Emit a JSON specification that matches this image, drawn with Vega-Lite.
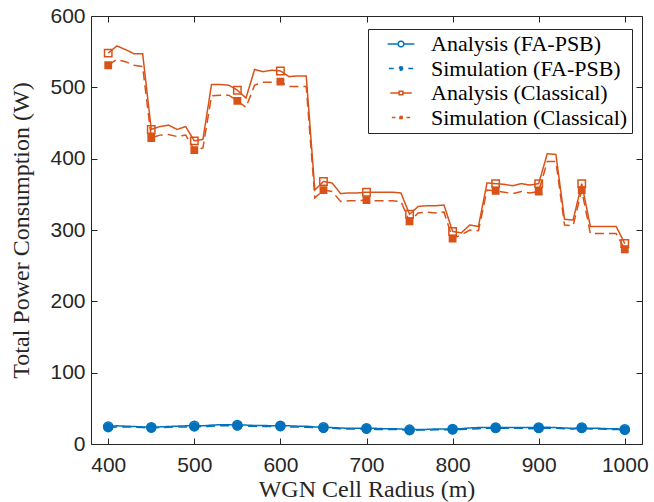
{
  "$schema": "https://vega.github.io/schema/vega-lite/v6.json",
  "width": 551,
  "height": 428,
  "autosize": {"type": "none"},
  "padding": {"left": 91, "top": 16, "right": 12, "bottom": 58},
  "background": "white",
  "config": {
    "view": {"stroke": null},
    "axis": {
      "grid": false,
      "domainColor": "#262626",
      "tickColor": "#262626",
      "labelColor": "#262626",
      "labelFont": "Liberation Sans",
      "labelFontSize": 21,
      "titleFont": "Liberation Serif",
      "titleFontSize": 24,
      "titleFontWeight": "normal",
      "titleColor": "#262626",
      "tickSize": -6
    }
  },
  "data": {"values": [
    {"r":400,"s":"Analysis (Classical)","p":548},{"r":410,"s":"Analysis (Classical)","p":558},{"r":420,"s":"Analysis (Classical)","p":553},{"r":430,"s":"Analysis (Classical)","p":547},{"r":440,"s":"Analysis (Classical)","p":547},
    {"r":450,"s":"Analysis (Classical)","p":441},{"r":460,"s":"Analysis (Classical)","p":445},{"r":470,"s":"Analysis (Classical)","p":447},{"r":480,"s":"Analysis (Classical)","p":441},{"r":490,"s":"Analysis (Classical)","p":445},
    {"r":500,"s":"Analysis (Classical)","p":425},{"r":510,"s":"Analysis (Classical)","p":427},{"r":520,"s":"Analysis (Classical)","p":504},{"r":530,"s":"Analysis (Classical)","p":504},{"r":540,"s":"Analysis (Classical)","p":503},
    {"r":550,"s":"Analysis (Classical)","p":496},{"r":560,"s":"Analysis (Classical)","p":485},{"r":570,"s":"Analysis (Classical)","p":525},{"r":580,"s":"Analysis (Classical)","p":522},{"r":590,"s":"Analysis (Classical)","p":524},
    {"r":600,"s":"Analysis (Classical)","p":523},{"r":610,"s":"Analysis (Classical)","p":515},{"r":620,"s":"Analysis (Classical)","p":516},{"r":630,"s":"Analysis (Classical)","p":516},{"r":640,"s":"Analysis (Classical)","p":356},
    {"r":650,"s":"Analysis (Classical)","p":368},{"r":660,"s":"Analysis (Classical)","p":366},{"r":670,"s":"Analysis (Classical)","p":351},{"r":680,"s":"Analysis (Classical)","p":352},{"r":690,"s":"Analysis (Classical)","p":352},
    {"r":700,"s":"Analysis (Classical)","p":353},{"r":710,"s":"Analysis (Classical)","p":353},{"r":720,"s":"Analysis (Classical)","p":353},{"r":730,"s":"Analysis (Classical)","p":353},{"r":740,"s":"Analysis (Classical)","p":352},
    {"r":750,"s":"Analysis (Classical)","p":322},{"r":760,"s":"Analysis (Classical)","p":333},{"r":770,"s":"Analysis (Classical)","p":334},{"r":780,"s":"Analysis (Classical)","p":334},{"r":790,"s":"Analysis (Classical)","p":335},
    {"r":800,"s":"Analysis (Classical)","p":298},{"r":810,"s":"Analysis (Classical)","p":296},{"r":820,"s":"Analysis (Classical)","p":307},{"r":830,"s":"Analysis (Classical)","p":305},{"r":840,"s":"Analysis (Classical)","p":366},
    {"r":850,"s":"Analysis (Classical)","p":365},{"r":860,"s":"Analysis (Classical)","p":364},{"r":870,"s":"Analysis (Classical)","p":362},{"r":880,"s":"Analysis (Classical)","p":365},{"r":890,"s":"Analysis (Classical)","p":363},
    {"r":900,"s":"Analysis (Classical)","p":365},{"r":910,"s":"Analysis (Classical)","p":407},{"r":920,"s":"Analysis (Classical)","p":406},{"r":930,"s":"Analysis (Classical)","p":315},{"r":940,"s":"Analysis (Classical)","p":314},
    {"r":950,"s":"Analysis (Classical)","p":365},{"r":960,"s":"Analysis (Classical)","p":305},{"r":970,"s":"Analysis (Classical)","p":305},{"r":980,"s":"Analysis (Classical)","p":305},{"r":990,"s":"Analysis (Classical)","p":305},
    {"r":1000,"s":"Analysis (Classical)","p":281},

    {"r":400,"s":"Simulation (Classical)","p":531},{"r":410,"s":"Simulation (Classical)","p":539},{"r":420,"s":"Simulation (Classical)","p":536},{"r":430,"s":"Simulation (Classical)","p":531},{"r":440,"s":"Simulation (Classical)","p":529},
    {"r":450,"s":"Simulation (Classical)","p":429},{"r":460,"s":"Simulation (Classical)","p":433},{"r":470,"s":"Simulation (Classical)","p":434},{"r":480,"s":"Simulation (Classical)","p":431},{"r":490,"s":"Simulation (Classical)","p":433},
    {"r":500,"s":"Simulation (Classical)","p":412},{"r":510,"s":"Simulation (Classical)","p":415},{"r":520,"s":"Simulation (Classical)","p":488},{"r":530,"s":"Simulation (Classical)","p":489},{"r":540,"s":"Simulation (Classical)","p":489},
    {"r":550,"s":"Simulation (Classical)","p":481},{"r":560,"s":"Simulation (Classical)","p":472},{"r":570,"s":"Simulation (Classical)","p":503},{"r":580,"s":"Simulation (Classical)","p":507},{"r":590,"s":"Simulation (Classical)","p":507},
    {"r":600,"s":"Simulation (Classical)","p":508},{"r":610,"s":"Simulation (Classical)","p":501},{"r":620,"s":"Simulation (Classical)","p":501},{"r":630,"s":"Simulation (Classical)","p":501},{"r":640,"s":"Simulation (Classical)","p":345},
    {"r":650,"s":"Simulation (Classical)","p":356},{"r":660,"s":"Simulation (Classical)","p":354},{"r":670,"s":"Simulation (Classical)","p":340},{"r":680,"s":"Simulation (Classical)","p":341},{"r":690,"s":"Simulation (Classical)","p":341},
    {"r":700,"s":"Simulation (Classical)","p":342},{"r":710,"s":"Simulation (Classical)","p":341},{"r":720,"s":"Simulation (Classical)","p":341},{"r":730,"s":"Simulation (Classical)","p":341},{"r":740,"s":"Simulation (Classical)","p":340},
    {"r":750,"s":"Simulation (Classical)","p":312},{"r":760,"s":"Simulation (Classical)","p":324},{"r":770,"s":"Simulation (Classical)","p":325},{"r":780,"s":"Simulation (Classical)","p":324},{"r":790,"s":"Simulation (Classical)","p":325},
    {"r":800,"s":"Simulation (Classical)","p":288},{"r":810,"s":"Simulation (Classical)","p":293},{"r":820,"s":"Simulation (Classical)","p":300},{"r":830,"s":"Simulation (Classical)","p":299},{"r":840,"s":"Simulation (Classical)","p":356},
    {"r":850,"s":"Simulation (Classical)","p":355},{"r":860,"s":"Simulation (Classical)","p":353},{"r":870,"s":"Simulation (Classical)","p":351},{"r":880,"s":"Simulation (Classical)","p":354},{"r":890,"s":"Simulation (Classical)","p":352},
    {"r":900,"s":"Simulation (Classical)","p":354},{"r":910,"s":"Simulation (Classical)","p":396},{"r":920,"s":"Simulation (Classical)","p":396},{"r":930,"s":"Simulation (Classical)","p":307},{"r":940,"s":"Simulation (Classical)","p":306},
    {"r":950,"s":"Simulation (Classical)","p":356},{"r":960,"s":"Simulation (Classical)","p":295},{"r":970,"s":"Simulation (Classical)","p":295},{"r":980,"s":"Simulation (Classical)","p":295},{"r":990,"s":"Simulation (Classical)","p":295},
    {"r":1000,"s":"Simulation (Classical)","p":273},

    {"r":400,"s":"Analysis (FA-PSB)","p":24.5},{"r":410,"s":"Analysis (FA-PSB)","p":25.5},{"r":420,"s":"Analysis (FA-PSB)","p":25},{"r":430,"s":"Analysis (FA-PSB)","p":24.5},{"r":440,"s":"Analysis (FA-PSB)","p":24},
    {"r":450,"s":"Analysis (FA-PSB)","p":23.5},{"r":460,"s":"Analysis (FA-PSB)","p":24},{"r":470,"s":"Analysis (FA-PSB)","p":24.5},{"r":480,"s":"Analysis (FA-PSB)","p":25},{"r":490,"s":"Analysis (FA-PSB)","p":25.5},
    {"r":500,"s":"Analysis (FA-PSB)","p":25.5},{"r":510,"s":"Analysis (FA-PSB)","p":25.5},{"r":520,"s":"Analysis (FA-PSB)","p":26.5},{"r":530,"s":"Analysis (FA-PSB)","p":27},{"r":540,"s":"Analysis (FA-PSB)","p":27},
    {"r":550,"s":"Analysis (FA-PSB)","p":26.5},{"r":560,"s":"Analysis (FA-PSB)","p":26.5},{"r":570,"s":"Analysis (FA-PSB)","p":26},{"r":580,"s":"Analysis (FA-PSB)","p":26},{"r":590,"s":"Analysis (FA-PSB)","p":25.5},
    {"r":600,"s":"Analysis (FA-PSB)","p":25.5},{"r":610,"s":"Analysis (FA-PSB)","p":25.5},{"r":620,"s":"Analysis (FA-PSB)","p":25},{"r":630,"s":"Analysis (FA-PSB)","p":25},{"r":640,"s":"Analysis (FA-PSB)","p":24},
    {"r":650,"s":"Analysis (FA-PSB)","p":23.5},{"r":660,"s":"Analysis (FA-PSB)","p":23},{"r":670,"s":"Analysis (FA-PSB)","p":22.5},{"r":680,"s":"Analysis (FA-PSB)","p":22},{"r":690,"s":"Analysis (FA-PSB)","p":22},
    {"r":700,"s":"Analysis (FA-PSB)","p":22},{"r":710,"s":"Analysis (FA-PSB)","p":22},{"r":720,"s":"Analysis (FA-PSB)","p":21.5},{"r":730,"s":"Analysis (FA-PSB)","p":21.5},{"r":740,"s":"Analysis (FA-PSB)","p":21},
    {"r":750,"s":"Analysis (FA-PSB)","p":20},{"r":760,"s":"Analysis (FA-PSB)","p":20.5},{"r":770,"s":"Analysis (FA-PSB)","p":20.5},{"r":780,"s":"Analysis (FA-PSB)","p":21},{"r":790,"s":"Analysis (FA-PSB)","p":21},
    {"r":800,"s":"Analysis (FA-PSB)","p":21},{"r":810,"s":"Analysis (FA-PSB)","p":21.5},{"r":820,"s":"Analysis (FA-PSB)","p":22.5},{"r":830,"s":"Analysis (FA-PSB)","p":23},{"r":840,"s":"Analysis (FA-PSB)","p":23},
    {"r":850,"s":"Analysis (FA-PSB)","p":23},{"r":860,"s":"Analysis (FA-PSB)","p":23},{"r":870,"s":"Analysis (FA-PSB)","p":23},{"r":880,"s":"Analysis (FA-PSB)","p":23},{"r":890,"s":"Analysis (FA-PSB)","p":23},
    {"r":900,"s":"Analysis (FA-PSB)","p":23},{"r":910,"s":"Analysis (FA-PSB)","p":23.5},{"r":920,"s":"Analysis (FA-PSB)","p":23},{"r":930,"s":"Analysis (FA-PSB)","p":22.5},{"r":940,"s":"Analysis (FA-PSB)","p":22},
    {"r":950,"s":"Analysis (FA-PSB)","p":23},{"r":960,"s":"Analysis (FA-PSB)","p":22},{"r":970,"s":"Analysis (FA-PSB)","p":22},{"r":980,"s":"Analysis (FA-PSB)","p":21.5},{"r":990,"s":"Analysis (FA-PSB)","p":21.5},
    {"r":1000,"s":"Analysis (FA-PSB)","p":20.5},

    {"r":400,"s":"Simulation (FA-PSB)","p":23},{"r":410,"s":"Simulation (FA-PSB)","p":24},{"r":420,"s":"Simulation (FA-PSB)","p":24},{"r":430,"s":"Simulation (FA-PSB)","p":23.5},{"r":440,"s":"Simulation (FA-PSB)","p":23},
    {"r":450,"s":"Simulation (FA-PSB)","p":22.5},{"r":460,"s":"Simulation (FA-PSB)","p":23},{"r":470,"s":"Simulation (FA-PSB)","p":23.5},{"r":480,"s":"Simulation (FA-PSB)","p":24},{"r":490,"s":"Simulation (FA-PSB)","p":24},
    {"r":500,"s":"Simulation (FA-PSB)","p":24},{"r":510,"s":"Simulation (FA-PSB)","p":24.5},{"r":520,"s":"Simulation (FA-PSB)","p":25},{"r":530,"s":"Simulation (FA-PSB)","p":25.5},{"r":540,"s":"Simulation (FA-PSB)","p":25.5},
    {"r":550,"s":"Simulation (FA-PSB)","p":25.5},{"r":560,"s":"Simulation (FA-PSB)","p":25},{"r":570,"s":"Simulation (FA-PSB)","p":25},{"r":580,"s":"Simulation (FA-PSB)","p":24.5},{"r":590,"s":"Simulation (FA-PSB)","p":24.5},
    {"r":600,"s":"Simulation (FA-PSB)","p":24.5},{"r":610,"s":"Simulation (FA-PSB)","p":24},{"r":620,"s":"Simulation (FA-PSB)","p":24},{"r":630,"s":"Simulation (FA-PSB)","p":23.5},{"r":640,"s":"Simulation (FA-PSB)","p":23},
    {"r":650,"s":"Simulation (FA-PSB)","p":22},{"r":660,"s":"Simulation (FA-PSB)","p":22},{"r":670,"s":"Simulation (FA-PSB)","p":21.5},{"r":680,"s":"Simulation (FA-PSB)","p":21},{"r":690,"s":"Simulation (FA-PSB)","p":21},
    {"r":700,"s":"Simulation (FA-PSB)","p":21},{"r":710,"s":"Simulation (FA-PSB)","p":20.5},{"r":720,"s":"Simulation (FA-PSB)","p":20.5},{"r":730,"s":"Simulation (FA-PSB)","p":20.5},{"r":740,"s":"Simulation (FA-PSB)","p":20},
    {"r":750,"s":"Simulation (FA-PSB)","p":19},{"r":760,"s":"Simulation (FA-PSB)","p":19.5},{"r":770,"s":"Simulation (FA-PSB)","p":19.5},{"r":780,"s":"Simulation (FA-PSB)","p":20},{"r":790,"s":"Simulation (FA-PSB)","p":20},
    {"r":800,"s":"Simulation (FA-PSB)","p":20},{"r":810,"s":"Simulation (FA-PSB)","p":20.5},{"r":820,"s":"Simulation (FA-PSB)","p":21},{"r":830,"s":"Simulation (FA-PSB)","p":21.5},{"r":840,"s":"Simulation (FA-PSB)","p":22},
    {"r":850,"s":"Simulation (FA-PSB)","p":22},{"r":860,"s":"Simulation (FA-PSB)","p":22},{"r":870,"s":"Simulation (FA-PSB)","p":22},{"r":880,"s":"Simulation (FA-PSB)","p":22},{"r":890,"s":"Simulation (FA-PSB)","p":21.5},
    {"r":900,"s":"Simulation (FA-PSB)","p":22},{"r":910,"s":"Simulation (FA-PSB)","p":22},{"r":920,"s":"Simulation (FA-PSB)","p":22},{"r":930,"s":"Simulation (FA-PSB)","p":21.5},{"r":940,"s":"Simulation (FA-PSB)","p":21},
    {"r":950,"s":"Simulation (FA-PSB)","p":22},{"r":960,"s":"Simulation (FA-PSB)","p":21},{"r":970,"s":"Simulation (FA-PSB)","p":21},{"r":980,"s":"Simulation (FA-PSB)","p":20.5},{"r":990,"s":"Simulation (FA-PSB)","p":20.5},
    {"r":1000,"s":"Simulation (FA-PSB)","p":19.5}
  ]},
  "layer": [
    {
      "mark": {"type": "line", "strokeWidth": 1.5},
      "encoding": {
        "x": {"field": "r", "type": "quantitative",
              "scale": {"domain": [380, 1020], "nice": false, "zero": false},
              "axis": {"orient": "bottom", "values": [400,500,600,700,800,900,1000], "format": "d", "title": "WGN Cell Radius (m)", "labelPadding": 16, "titlePadding": 2}},
        "y": {"field": "p", "type": "quantitative",
              "scale": {"domain": [0, 600], "nice": false},
              "axis": {"orient": "left", "values": [0,100,200,300,400,500,600], "title": "Total Power Consumption (W)", "labelPadding": 12, "titlePadding": 16}},
        "stroke": {"field": "s", "type": "nominal",
              "scale": {"domain": ["Analysis (FA-PSB)","Simulation (FA-PSB)","Analysis (Classical)","Simulation (Classical)"], "range": ["#0072BD","#0072BD","#D95319","#D95319"]},
              "legend": {
                "orient": "none", "legendX": 277, "legendY": 13, "title": null,
                "strokeColor": "#262626", "fillColor": "white", "padding": 4,
                "labelFont": "Liberation Serif", "labelFontSize": 22, "labelColor": "black",
                "rowPadding": 2.5, "symbolOffset": 18, "labelOffset": 19, "symbolSize": 324,
                "symbolStrokeWidth": 1.5, "labelLimit": 400
              }},
        "strokeDash": {"field": "s", "type": "nominal",
              "scale": {"domain": ["Analysis (FA-PSB)","Simulation (FA-PSB)","Analysis (Classical)","Simulation (Classical)"], "range": [[1,0],[9,5],[1,0],[9,5]]},
              "legend": null}
      }
    },
    {
      "transform": [{"filter": "datum.r % 50 == 0 && indexof(datum.s, 'FA-PSB') >= 0"}],
      "mark": {"type": "circle", "strokeWidth": 1.5, "opacity": 1},
      "encoding": {
        "x": {"field": "r", "type": "quantitative", "axis": null},
        "y": {"field": "p", "type": "quantitative", "axis": null},
        "stroke": {"field": "s", "type": "nominal"},
        "fill": {"field": "s", "type": "nominal",
              "scale": {"domain": ["Analysis (FA-PSB)","Simulation (FA-PSB)","Analysis (Classical)","Simulation (Classical)"], "range": ["transparent","#0072BD","transparent","#D95319"]}},
        "size": {"field": "s", "type": "nominal",
              "scale": {"domain": ["Analysis (FA-PSB)","Simulation (FA-PSB)","Analysis (Classical)","Simulation (Classical)"], "range": [85,40,70,40]},
              "legend": null}
      }
    },
    {
      "transform": [{"filter": "datum.r % 50 == 0 && indexof(datum.s, 'Classical') >= 0"}],
      "mark": {"type": "square", "strokeWidth": 1.5, "opacity": 1},
      "encoding": {
        "x": {"field": "r", "type": "quantitative", "axis": null},
        "y": {"field": "p", "type": "quantitative", "axis": null},
        "stroke": {"field": "s", "type": "nominal"},
        "fill": {"field": "s", "type": "nominal"},
        "size": {"field": "s", "type": "nominal", "legend": null}
      }
    },
    {
      "transform": [{"filter": "datum.r < 0"}],
      "mark": {"type": "point", "filled": true, "strokeWidth": 1.5, "opacity": 1},
      "encoding": {
        "x": {"field": "r", "type": "quantitative",
              "axis": {"orient": "top", "values": [400,500,600,700,800,900,1000], "labels": false, "title": null}},
        "y": {"field": "p", "type": "quantitative",
              "axis": {"orient": "right", "values": [0,100,200,300,400,500,600], "labels": false, "title": null}},
        "shape": {"field": "s", "type": "nominal",
              "scale": {"domain": ["Analysis (FA-PSB)","Simulation (FA-PSB)","Analysis (Classical)","Simulation (Classical)"],
                        "range": [
                          "M-2.9,0L-0.62,0M0.62,0L2.9,0M-0.62,0A0.62,0.62,0,1,1,0.62,0A0.62,0.62,0,1,1,-0.62,0",
                          "M-2.9,0L-1.75,0M1.75,0L2.9,0M-0.4,0A0.4,0.4,0,1,1,0.4,0A0.4,0.4,0,1,1,-0.4,0",
                          "M-2.9,0L-0.5,0M0.5,0L2.9,0M-0.5,-0.5L0.5,-0.5L0.5,0.5L-0.5,0.5Z",
                          "M-2.9,0L-1.75,0M1.75,0L2.9,0M-0.35,-0.35L0.35,-0.35L0.35,0.35L-0.35,0.35Z"
                        ]}}
      }
    }
  ],
  "resolve": {"axis": {"x": "independent", "y": "independent"}}
}
